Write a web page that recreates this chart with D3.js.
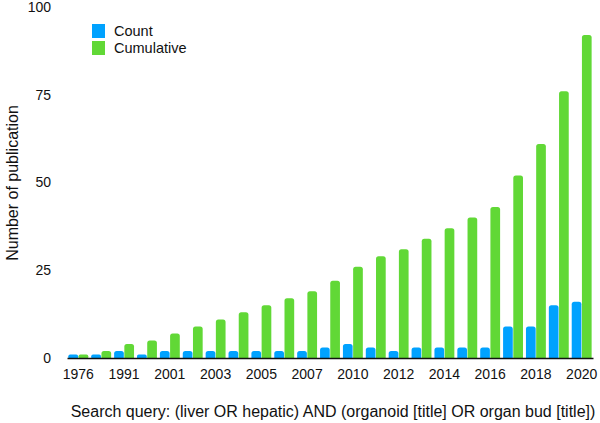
<!DOCTYPE html>
<html>
<head>
<meta charset="utf-8">
<script src="https://cdn.jsdelivr.net/npm/d3@7"></script>
<style>
  body { margin: 0; background: #fff; }
  text { font-family: "Liberation Sans", Arial, Helvetica, sans-serif; fill: #111; }
</style>
</head>
<body>
<div class="chart"></div>
<script>
// years with at least one publication
let years = ['1976', '1989', '1991', '1997', '2001', '2002', '2003', '2004', '2005', '2006', '2007',
	'2009', '2010', '2011', '2012', '2013', '2014', '2015', '2016', '2017', '2018', '2019', '2020'];
let counts = [1, 1, 2, 1, 2, 2, 2, 2, 2, 2, 2, 3, 4, 3, 2, 3, 3, 3, 3, 9, 9, 15, 16];
let cumulative = [1, 2, 4, 5, 7, 9, 11, 13, 15, 17, 19, 22, 26, 29, 31, 34, 37, 40, 43, 52, 61, 76, 92];
let yTicks = [0, 25, 50, 75, 100];
let seriesNames = ['Count', 'Cumulative'];
let colors = ['#00a2ff', '#61d836'];

let margin = {top: 7, right: 7, bottom: 65, left: 67};
let width = 600 - margin.left - margin.right;
let height = 423 - margin.top - margin.bottom;

let svg = d3.select('.chart')
	.append('svg')
	.attr('width', 600)
	.attr('height', 423)
	.append('g')
	.attr('transform', 'translate(' + margin.left + ', ' + margin.top + ')');

let xScale = d3.scaleBand()
	.domain(years)
	.range([0, width])
	.paddingInner(0.13)
	.paddingOuter(0.06);

let xSub = d3.scaleBand()
	.domain(seriesNames)
	.range([0, xScale.bandwidth()])
	.paddingInner(0.05);

let yScale = d3.scaleLinear()
	.domain([0, 100])
	.range([height, 0]);

// bar with rounded top corners
function barPath(x, y, w, h) {
	let r = Math.min(2.5, h / 2, w / 2);
	return 'M' + x + ',' + (y + h) +
		'V' + (y + r) +
		'Q' + x + ',' + y + ' ' + (x + r) + ',' + y +
		'H' + (x + w - r) +
		'Q' + (x + w) + ',' + y + ' ' + (x + w) + ',' + (y + r) +
		'V' + (y + h) + 'Z';
}

let rows = years.map((yr, i) => ({year: yr, values: [counts[i], cumulative[i]]}));

let groups = svg.selectAll('.group')
	.data(rows)
	.enter()
	.append('g')
	.attr('class', 'group')
	.attr('transform', d => 'translate(' + xScale(d.year) + ',0)');

groups.selectAll('path')
	.data(d => d.values.map((v, i) => ({name: seriesNames[i], value: v, i: i})))
	.enter()
	.append('path')
	.attr('d', d => barPath(xSub(d.name), yScale(d.value), xSub.bandwidth(), height - yScale(d.value)))
	.style('fill', d => colors[d.i]);

// x axis, every second year labelled
let xAxis = d3.axisBottom(xScale)
	.tickSize(0)
	.tickPadding(11)
	.tickFormat((d, i) => i % 2 === 0 ? d : '');

let gx = svg.append('g')
	.attr('transform', 'translate(0, ' + height + ')')
	.call(xAxis);
gx.select('.domain').attr('stroke', '#111').attr('stroke-width', 1.5);
gx.selectAll('text').style('font-size', '14px');

let yAxis = d3.axisLeft(yScale)
	.tickValues(yTicks)
	.tickSize(0)
	.tickPadding(16);

let gy = svg.append('g').call(yAxis);
gy.select('.domain').remove();
gy.selectAll('text').style('font-size', '14px');

svg.append('text')
	.attr('transform', 'rotate(-90)')
	.attr('x', -183 + margin.top)
	.attr('y', 18 - margin.left)
	.attr('text-anchor', 'middle')
	.style('font-size', '16px')
	.text('Number of publication');

svg.append('text')
	.attr('x', 333 - margin.left)
	.attr('y', 417 - margin.top)
	.attr('text-anchor', 'middle')
	.style('font-size', '16px')
	.text('Search query: (liver OR hepatic) AND (organoid [title] OR organ bud [title])');

// legend
let legend = svg.selectAll('.legend')
	.data(seriesNames)
	.enter()
	.append('g')
	.attr('class', 'legend')
	.attr('transform', (d, i) => 'translate(' + (92 - margin.left) + ',' + (24 - margin.top + i * 17) + ')');

legend.append('rect')
	.attr('width', 13)
	.attr('height', 14)
	.style('fill', (d, i) => colors[i]);

legend.append('text')
	.attr('x', 22)
	.attr('y', 12)
	.style('font-size', '14.5px')
	.text(d => d);
</script>
</body>
</html>
